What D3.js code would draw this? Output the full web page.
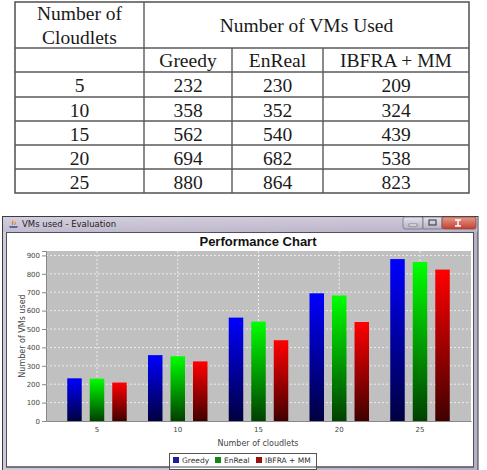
<!DOCTYPE html>
<html><head><meta charset="utf-8">
<script src="https://cdn.jsdelivr.net/npm/d3@7"></script>
<style>
html,body{margin:0;padding:0;background:#fff;}
svg{display:block;}
</style></head>
<body>
<svg id="c" width="487" height="470"></svg>
<script>
const categories = ["5","10","15","20","25"];
const series = ["Greedy","EnReal","IBFRA + MM"];
const greedy = [232,358,562,694,880];
const enreal = [230,352,540,682,864];
const ibfra  = [209,324,439,538,823];
const yTicks = [0,100,200,300,400,500,600,700,800,900];
const seriesValues = [greedy, enreal, ibfra];
const seriesColors = [["#0000ff","#000040","#1f1f9a"],["#00ff00","#004000","#0e8a0e"],["#ff0000","#400000","#9a1010"]];

(function(){
const svg = d3.select("#c");

// ---------- Table ----------
const tbl = svg.append("g");
const colX = [15,144,232,323,469];
const rowY = [2,48,72,97,121,145,169,193];
const tFont = "'Liberation Serif','Times New Roman',serif";
const lineC = "#5a5a5a";
tbl.append("rect").attr("x",colX[0]).attr("y",rowY[0]).attr("width",colX[4]-colX[0]).attr("height",rowY[7]-rowY[0])
  .attr("fill","#fff").attr("stroke",lineC).attr("stroke-width",1.6);
rowY.slice(1,7).forEach(y=>tbl.append("line").attr("x1",colX[0]).attr("x2",colX[4]).attr("y1",y).attr("y2",y).attr("stroke",lineC).attr("stroke-width",1.4));
tbl.append("line").attr("x1",colX[1]).attr("x2",colX[1]).attr("y1",rowY[0]).attr("y2",rowY[7]).attr("stroke",lineC).attr("stroke-width",1.4);
[colX[2],colX[3]].forEach(x=>tbl.append("line").attr("x1",x).attr("x2",x).attr("y1",rowY[1]).attr("y2",rowY[7]).attr("stroke",lineC).attr("stroke-width",1.4));
const cx = i=>(colX[i]+colX[i+1])/2;
function ttext(x,y,s){tbl.append("text").attr("x",x).attr("y",y).attr("text-anchor","middle")
  .attr("font-family",tFont).attr("font-size",19.5).attr("fill","#1a1a1a").text(s);}
ttext(cx(0),20,"Number of");
ttext(cx(0),43.5,"Cloudlets");
ttext((colX[1]+colX[4])/2,32,"Number of VMs Used");
series.forEach((s,i)=>ttext(cx(i+1),66.5,s));
categories.forEach((c,r)=>{
  const y = rowY[r+2]+19.5;
  ttext(cx(0),y,c);
  seriesValues.forEach((v,i)=>ttext(cx(i+1),y,v[r]));
});

// ---------- Window frame ----------
const defs = svg.append("defs");
const tb = defs.append("linearGradient").attr("id","tbar").attr("x1",0).attr("x2",0).attr("y1",0).attr("y2",1);
tb.append("stop").attr("offset","0").attr("stop-color","#d6d2df");
tb.append("stop").attr("offset","1").attr("stop-color","#bdb6cb");
const fr = defs.append("linearGradient").attr("id","tbar2").attr("x1",0).attr("x2",1).attr("y1",0).attr("y2",0);
fr.append("stop").attr("offset","0").attr("stop-color","#cfc9d9");
fr.append("stop").attr("offset","0.5").attr("stop-color","#c4bdd0");
fr.append("stop").attr("offset","1").attr("stop-color","#b7afc6");
svg.append("rect").attr("x",2.5).attr("y",216.5).attr("width",475.5).attr("height",260)
  .attr("fill","url(#tbar2)").attr("stroke","#3c3c44").attr("stroke-width",1);
svg.append("rect").attr("x",3).attr("y",217).attr("width",474.5).attr("height",15).attr("fill","url(#tbar)").attr("opacity",0.7);
const ic = svg.append("g");
ic.append("path").attr("d","M9,226 h9 l-1,2 h-7 z").attr("fill","#4a6fa8");
ic.append("path").attr("d","M12,225 q-1,-3 1,-5 q1,2 0,5 z M14,225 q1,-3 2,-4 q0,2 -1,4 z").attr("fill","#e08020");
svg.append("text").attr("x",22).attr("y",227).attr("font-family","'DejaVu Sans',sans-serif").attr("font-size",8.5)
  .attr("fill","#222").text("VMs used - Evaluation");
const cg = defs.append("linearGradient").attr("id","closeg").attr("x1",0).attr("x2",0).attr("y1",0).attr("y2",1);
cg.append("stop").attr("offset","0").attr("stop-color","#e59a8a");
cg.append("stop").attr("offset","1").attr("stop-color","#c2402e");
const bg = defs.append("linearGradient").attr("id","btng").attr("x1",0).attr("x2",0).attr("y1",0).attr("y2",1);
bg.append("stop").attr("offset","0").attr("stop-color","#e6e3ec");
bg.append("stop").attr("offset","1").attr("stop-color","#b6b0c4");
svg.append("rect").attr("x",403).attr("y",217).attr("width",20).attr("height",12).attr("rx",2).attr("fill","url(#btng)").attr("stroke","#77718a").attr("stroke-width",0.8);
svg.append("rect").attr("x",423).attr("y",217).attr("width",19).attr("height",12).attr("fill","url(#btng)").attr("stroke","#77718a").attr("stroke-width",0.8);
svg.append("rect").attr("x",442).attr("y",217).attr("width",34).attr("height",12).attr("rx",2).attr("fill","url(#closeg)").attr("stroke","#8a4a44").attr("stroke-width",0.8);
svg.append("rect").attr("x",409).attr("y",224).attr("width",8).attr("height",2).attr("fill","#fff").attr("stroke","#444").attr("stroke-width",0.5);
svg.append("rect").attr("x",429).attr("y",220).attr("width",7).attr("height",5).attr("fill","none").attr("stroke","#333").attr("stroke-width",1);
svg.append("path").attr("d","M455,220 h6 M458,220 v6 M455,226 h6").attr("stroke","#fff").attr("stroke-width",1.5);
svg.append("rect").attr("x",6.5).attr("y",232.5).attr("width",467).attr("height",234.5)
  .attr("fill","#fff").attr("stroke","#505058").attr("stroke-width",1);

// ---------- Chart ----------
const pLeft=46, pRight=471, pTop=251, pBottom=421;
const x0 = d3.scaleBand().domain(categories).range([pLeft,pRight]).paddingInner(0.263).paddingOuter(0.263);
const x1 = d3.scaleBand().domain(series).range([0,x0.bandwidth()]).paddingInner(0.356);
const y = d3.scaleLinear().domain([0,924]).range([pBottom,pTop]);
const cFont = "'DejaVu Sans','Liberation Sans',sans-serif";

svg.append("rect").attr("x",pLeft).attr("y",pTop).attr("width",pRight-pLeft).attr("height",pBottom-pTop).attr("fill","#c0c0c0");
const g = svg.append("g");
yTicks.slice(1).forEach(t=>g.append("line").attr("x1",pLeft).attr("x2",pRight).attr("y1",y(t)).attr("y2",y(t))
  .attr("stroke","#ffffff").attr("stroke-width",0.8).attr("stroke-dasharray","2,2").attr("opacity",0.9));
categories.forEach(c=>{const xc=x0(c)+x0.bandwidth()/2;
  g.append("line").attr("x1",xc).attr("x2",xc).attr("y1",pTop).attr("y2",pBottom)
  .attr("stroke","#ffffff").attr("stroke-width",0.8).attr("stroke-dasharray","2,2").attr("opacity",0.9);});

series.forEach((s,i)=>{
  const lg = defs.append("linearGradient").attr("id","bg"+i).attr("x1",0).attr("x2",0).attr("y1",0).attr("y2",1);
  lg.append("stop").attr("offset","0").attr("stop-color",seriesColors[i][0]);
  lg.append("stop").attr("offset","1").attr("stop-color",seriesColors[i][1]);
});
series.forEach((s,i)=>{
  svg.append("g").selectAll("rect").data(categories).join("rect")
    .attr("x",(c)=>x0(c)+x1(s)).attr("width",x1.bandwidth())
    .attr("y",(c,j)=>y(seriesValues[i][j])).attr("height",(c,j)=>y(0)-y(seriesValues[i][j]))
    .attr("fill","url(#bg"+i+")");
});

const yAxis = d3.axisLeft(y).tickValues(yTicks).tickSize(4).tickPadding(2);
const ya = svg.append("g").attr("transform",`translate(${pLeft},0)`).call(yAxis);
ya.select(".domain").attr("stroke","#888");
ya.selectAll(".tick line").attr("stroke","#888");
ya.selectAll("text").attr("font-family",cFont).attr("font-size",7).attr("fill","#444");
const xAxis = d3.axisBottom(x0).tickSize(0).tickPadding(6);
const xa = svg.append("g").attr("transform",`translate(0,${pBottom})`).call(xAxis);
xa.select(".domain").attr("stroke","#888");
xa.selectAll("text").attr("font-family",cFont).attr("font-size",7).attr("fill","#444");

svg.append("text").attr("x",258).attr("y",246).attr("text-anchor","middle").attr("font-family","'Liberation Sans',Arial,sans-serif")
  .attr("font-weight","bold").attr("font-size",13).attr("fill","#111").text("Performance Chart");
svg.append("text").attr("x",258).attr("y",446).attr("text-anchor","middle").attr("font-family",cFont)
  .attr("font-size",8).attr("fill","#444").text("Number of cloudlets");
svg.append("text").attr("transform","translate(25,336) rotate(-90)").attr("text-anchor","middle").attr("font-family",cFont)
  .attr("font-size",8).attr("fill","#444").text("Number of VMs used");

const lgd = svg.append("g");
lgd.append("rect").attr("x",169.5).attr("y",453.5).attr("width",147).attr("height",16).attr("fill","#fff").attr("stroke","#555").attr("stroke-width",1);
const legX = [173,215,256];
series.forEach((s,i)=>{
  lgd.append("rect").attr("x",legX[i]).attr("y",457).attr("width",6).attr("height",6).attr("fill",seriesColors[i][2]);
  lgd.append("text").attr("x",legX[i]+9).attr("y",463).attr("font-family",cFont).attr("font-size",7.5).attr("fill","#333").text(s);
});
svg.append("line").attr("x1",6.5).attr("x2",473.5).attr("y1",467).attr("y2",467).attr("stroke","#505058").attr("stroke-width",1);
})();
</script>
</body></html>
